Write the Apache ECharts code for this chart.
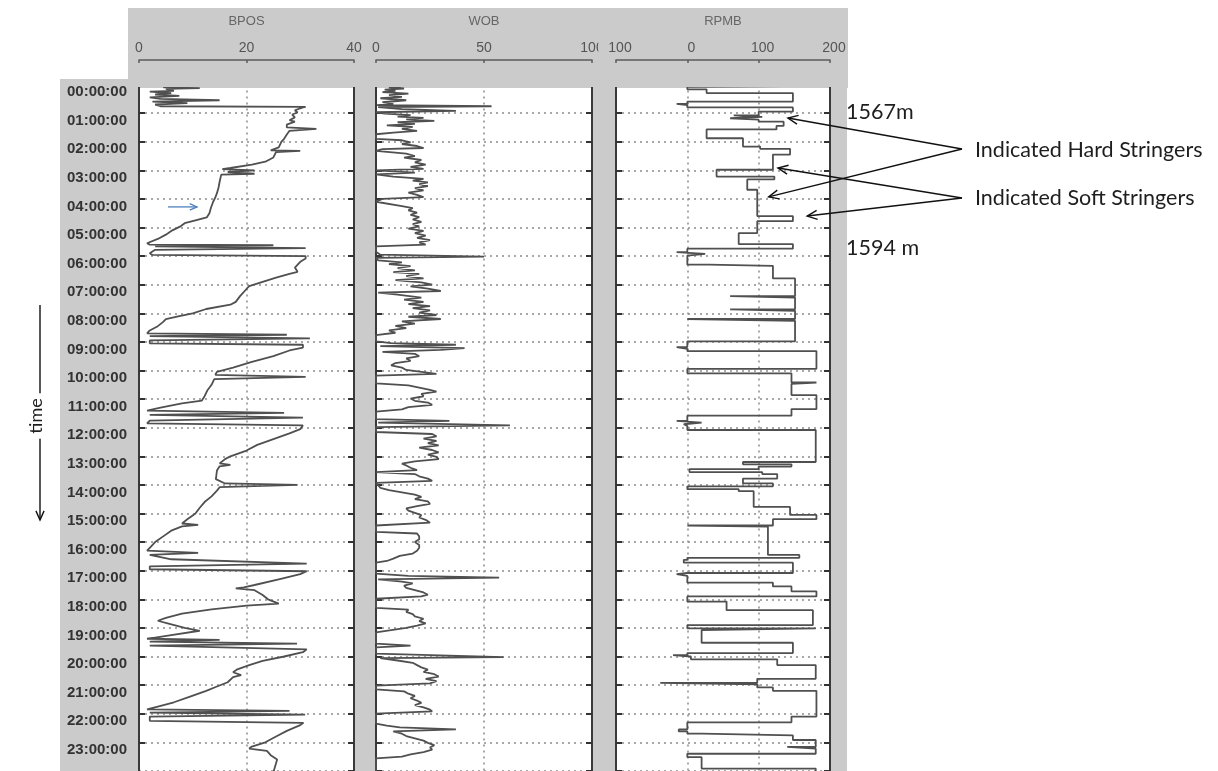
<!DOCTYPE html>
<html>
<head>
<meta charset="utf-8">
<script src="https://cdn.jsdelivr.net/npm/echarts@6/dist/echarts.min.js"></script>
<style>
html, body { margin: 0; padding: 0; background: #fff; }
#chart { width: 1218px; height: 771px; }
</style>
</head>
<body>
<div id="chart"></div>
<script>
// ---- Drilling log, one day (hours from 00:00) ----

// Hour tick labels on the shared time axis
const hourTicks = ['00:00:00','01:00:00','02:00:00','03:00:00','04:00:00','05:00:00',
  '06:00:00','07:00:00','08:00:00','09:00:00','10:00:00','11:00:00','12:00:00',
  '13:00:00','14:00:00','15:00:00','16:00:00','17:00:00','18:00:00','19:00:00',
  '20:00:00','21:00:00','22:00:00','23:00:00'];

// Track scale labels
const bposTicks = {0: '0', 20: '20', 40: '40'};
const wobTicks = {0: '0', 50: '50', 100: '100'};
const rpmbTicks = {'-100': '100', 0: '0', 100: '100', 200: '200'};

// BPOS – block position
const bposTime = [0.08,0.10,0.13,0.15,0.22,0.25,0.30,0.35,0.40,0.45,0.50,0.55,0.60,0.65,0.70,0.76,
  0.78,0.80,0.90,0.98,1.05,1.15,1.25,1.30,1.40,1.50,1.55,1.62,1.75,1.90,2.00,2.20,2.30,2.32,2.36,
  2.55,2.70,2.80,2.92,2.96,3.00,3.06,3.12,3.15,3.40,3.60,3.80,3.95,4.10,4.30,4.50,4.65,4.75,4.85,
  4.95,5.10,5.25,5.40,5.55,5.60,5.62,5.66,5.72,5.78,5.90,5.96,6.00,6.08,6.20,6.40,6.55,6.62,6.75,
  6.90,7.05,7.15,7.40,7.60,7.70,7.85,8.00,8.10,8.20,8.30,8.45,8.60,8.70,8.75,8.80,8.88,8.95,9.05,
  9.10,9.20,9.30,9.50,9.70,9.90,10.05,10.15,10.22,10.30,10.50,10.70,10.90,11.05,11.15,11.30,11.40,
  11.48,11.55,11.65,11.75,11.85,11.92,12.05,12.20,12.40,12.60,12.80,13.00,13.10,13.25,13.30,13.35,
  13.50,13.80,13.95,14.00,14.08,14.20,14.40,14.60,14.80,15.00,15.20,15.35,15.40,15.45,15.60,15.80,
  16.00,16.20,16.30,16.38,16.45,16.60,16.75,16.85,16.95,17.02,17.12,17.30,17.50,17.58,17.62,17.68,
  17.85,18.00,18.15,18.22,18.35,18.50,18.65,18.75,18.85,19.00,19.10,19.25,19.38,19.42,19.48,19.55,
  19.62,19.68,19.75,19.85,20.00,20.15,20.30,20.45,20.55,20.65,20.72,20.90,21.05,21.20,21.40,21.60,
  21.75,21.85,21.90,21.96,22.03,22.10,22.25,22.32,22.40,22.60,22.80,23.00,23.15,23.22,23.30,23.45,
  23.60,24.05];
const bposValue = [6.5,4.5,11.3,5,6.5,2,6,3,7.5,2,4,15,2.5,9,3,4,
  31,30.5,29,29.5,28.5,29,28,29,27.5,27.5,33,28,27.5,27,26.5,26,24.5,30,25.5,
  25,23.5,21,17,15.5,21.5,16.5,21.5,15.3,15,14.8,14.5,14.2,13.8,13.4,13.1,12.6,10.5,8.5,
  7.8,6.2,5,3.5,1.5,2,25,3,31,3,2,2.5,31,31,30,29,29.5,28,25.5,
  23,20.5,20,18.8,18,17,12.5,10,7.5,5,4.5,3.5,2,1.5,27.5,2,31.8,2,2,
  30.5,30.5,28,25,21,17.5,14.5,14.2,31,14,13.5,12.7,12.2,11.7,8,4,1.5,
  27,2,30.5,2,1.5,30.5,30,28,25,22,20,17,16,15,17,15,
  14.5,14.3,16,29.5,15,14.5,13.5,12.2,11.3,10.5,9,8,11,8,6,4.5,
  3,2,1.5,11,2,6,31.2,2,2,31.2,30,26,21.5,19.5,18,21.5,
  23,24,26,20,13.5,8,5,3.5,5.5,8.5,11.3,6,1.5,15,2,29.4,
  2,1.8,31.2,30.5,27,23,20.5,18.3,17.5,19,17.5,16.5,14.5,12.5,9.5,6.5,
  3.5,1.5,28,2,30.9,2,2,30.6,30,27.5,25.5,23.5,21,20.5,23.8,24.5,
  25.7,25];

// WOB – weight on bit
const wobTime = [0.06,0.10,0.14,0.18,0.22,0.27,0.32,0.37,0.43,0.48,0.55,0.62,0.68,0.72,0.76,0.79,
  0.86,0.92,0.97,1.02,1.07,1.12,1.17,1.22,1.27,1.32,1.38,1.43,1.48,1.55,1.62,1.68,1.74,1.90,1.95,
  2.02,2.08,2.15,2.22,2.26,2.32,2.42,2.50,2.56,2.64,2.72,2.80,2.88,2.95,3.00,3.08,3.14,3.22,3.30,
  3.36,3.42,3.48,3.55,3.62,3.70,3.78,3.86,3.94,4.00,4.10,4.25,4.32,4.40,4.48,4.56,4.64,4.72,4.80,
  4.88,4.96,5.04,5.12,5.20,5.28,5.36,5.44,5.52,5.60,5.66,5.85,5.95,6.02,6.06,6.15,6.22,6.28,6.35,
  6.42,6.50,6.56,6.62,6.70,6.78,6.84,6.92,7.00,7.06,7.14,7.22,7.28,7.35,7.45,7.52,7.60,7.68,7.75,
  7.82,7.90,7.98,8.06,8.12,8.20,8.28,8.36,8.44,8.52,8.60,8.68,8.76,8.98,9.04,9.10,9.15,9.22,9.28,
  9.35,9.42,9.50,9.58,9.66,9.74,9.82,9.90,9.98,10.06,10.12,10.18,10.45,10.52,10.60,10.68,10.74,
  10.82,10.90,10.98,11.06,11.12,11.20,11.28,11.36,11.44,11.70,11.76,11.82,11.92,11.98,12.15,12.22,
  12.30,12.38,12.46,12.54,12.62,12.70,12.78,12.86,12.94,13.02,13.10,13.18,13.26,13.32,13.40,13.48,
  13.55,13.62,13.70,13.78,13.86,13.93,14.10,14.18,14.26,14.34,14.42,14.50,14.58,14.66,14.74,14.82,
  14.90,14.98,15.06,15.14,15.22,15.32,15.42,15.64,15.70,15.80,15.90,16.00,16.10,16.20,16.30,16.40,
  16.48,16.58,16.66,16.72,17.10,17.18,17.24,17.30,17.38,17.44,17.52,17.60,17.68,17.76,17.84,17.90,
  17.98,18.30,18.36,18.44,18.52,18.60,18.68,18.76,18.84,18.92,19.00,19.08,19.16,19.55,19.62,19.68,
  19.90,19.98,20.02,20.06,20.14,20.22,20.30,20.38,20.46,20.54,20.62,20.70,20.78,20.86,20.94,21.02,
  21.15,21.22,21.30,21.38,21.46,21.54,21.62,21.70,21.78,21.86,21.92,22.00,22.35,22.42,22.48,22.55,
  22.62,22.70,22.78,22.86,22.94,23.02,23.10,23.18,23.26,23.34,23.42,23.50,23.56,24.05];
const wobValue = [12,6,13,4,9,3,15,6,12,2,14,3,8,0.5,53.5,1,
  12,37,0,4,16,10,22,14,27,10,18,5,17,12,19,8,0,0,12,
  16,12,19,22,3,0,14,18,13,21,18,23,16,22,0,18,0,8,22,
  17,24,20,24,18,22,15,19,22,3,0,12,17,15,19,16,20,17,21,
  17,20,15,22,18,23,19,25,20,23,0,0,2,50,0,1,12,6,16,
  10,18,8,20,14,22,9,21,26,16,24,30,1,10,21,13,22,15,25,
  17,25,20,28,15,30,12,18,9,14,6,9,0,0,7,37,2,41,30,
  3,18,20,14,16,9,7,12,14,22,28,0,0,15,20,25,28,
  21,22,16,18,24,26,15,12,0,0,34,1,62,0,0,26,
  28,22,28,24,29,20,26,29,24,28,29,18,12,14,16,19,
  0,18,20,24,26,0,2,6,12,18,21,18,24,25,19,14,
  15,18,21,20,23,25,0,0,19,20,20,18,20,20,19,17,
  11,8,5,0,0,15,57,1,12,17,13,14,18,22,24,21,
  0,0,15,14,17,18,22,20,23,19,14,7,0,0,16,0,
  0,38,59,2,10,17,19,21,24,22,27,29,23,28,25,0,
  0,13,15,18,16,19,21,18,22,25,26,0,0,5,11,37,
  8,12,14,18,22,24,27,25,26,22,16,12,0,0];

// RPMB – bit rotary speed, held constant from each time until the next
const rpmbTime = [0.00,0.05,0.08,0.17,0.30,0.60,0.68,0.72,0.80,0.95,1.08,1.13,1.18,1.23,1.30,1.45,
  1.57,1.88,2.17,2.25,2.45,2.98,3.22,3.32,3.68,4.60,4.78,5.20,5.58,5.74,5.86,5.92,5.98,6.30,6.34,
  6.78,7.40,7.45,7.86,7.91,8.20,8.26,8.98,9.18,9.24,9.32,9.94,10.10,10.42,10.47,10.86,11.35,11.58,
  11.76,11.82,11.88,11.94,12.08,13.20,13.28,13.36,13.45,13.55,13.62,13.78,13.95,14.05,14.15,14.22,
  14.77,15.05,15.20,15.42,15.46,16.45,16.55,16.62,16.72,17.08,17.12,17.18,17.42,17.55,17.72,17.90,
  18.08,18.38,18.90,19.02,19.08,19.52,19.88,19.95,20.00,20.10,20.30,20.78,20.92,20.97,21.08,21.20,
  22.10,22.30,22.55,22.62,22.70,22.76,22.92,23.16,23.22,23.40,23.52,23.92];
const rpmbValue = [0,180,0,27,148,0,-15,0,148,100,65,105,60,100,135,125,
  27,78,102,144,120,41,122,84,98,148,98,72,148,0,-15,25,0,30,120,
  151,60,151,60,151,0,151,0,-15,0,181,0,146,181,146,181,146,0,
  -15,20,-5,0,180,78,146,100,3,105,126,78,120,0,72,93,
  144,181,120,0,113,157,0,-5,148,0,-15,0,120,146,181,0,
  55,176,0,180,20,148,0,-20,5,126,180,98,-38,98,120,181,
  146,0,-12,0,20,148,180,140,180,0,20,180];
const rpmbEnd = 24.05;

function pairs(times, values) {
  return times.map((t, i) => [values[i], t]);
}
function stepPoints(times, values, end) {
  const pts = [];
  for (let i = 0; i < times.length; i++) {
    const next = i + 1 < times.length ? times[i + 1] : end;
    pts.push([values[i], times[i]], [values[i], next]);
  }
  return pts;
}

const GRAY = '#cbcbcb';
const TRACE = '#505050';
const FONT = 'Liberation Sans, Arial, sans-serif';
const plotTop = 84.5;
const plotHeight = 686.4;

const panels = [
  { left: 139, width: 215, name: 'BPOS', min: 0, max: 40, interval: 20, ticks: bposTicks },
  { left: 376, width: 216, name: 'WOB', min: 0, max: 100, interval: 50, ticks: wobTicks },
  { left: 616, width: 214, name: 'RPMB', min: -100, max: 200, interval: 100, ticks: rpmbTicks }
];

const grid = panels.map(p => ({ left: p.left, width: p.width, top: plotTop, height: plotHeight, containLabel: false }));

const xAxis = panels.map((p, i) => ({
  type: 'value', gridIndex: i, position: 'top', offset: 24.5,
  min: p.min, max: p.max, interval: p.interval,
  name: p.name, nameLocation: 'middle', nameGap: 32,
  nameTextStyle: { color: '#666', fontSize: 13, fontFamily: FONT },
  axisLine: { show: true, onZero: false, lineStyle: { color: '#5c5c5c', width: 1.5 } },
  axisTick: { show: true, length: 3, inside: true, lineStyle: { color: '#5c5c5c', width: 1.5 } },
  axisLabel: {
    show: true, color: '#555', fontSize: 14, fontFamily: FONT, margin: 5,
    showMinLabel: true, showMaxLabel: true,
    formatter: v => p.ticks[v],
    backgroundColor: i === 2 ? GRAY : 'transparent',
    padding: i === 2 ? [0, 2, 0, 10] : 0
  },
  splitLine: { show: true, lineStyle: { color: '#8c8c8c', width: 1.5, type: [2, 4] } }
}));

const yAxis = [];
panels.forEach((p, i) => {
  yAxis.push({
    type: 'value', gridIndex: i, position: 'left', inverse: true,
    min: 0, max: 24, interval: 1,
    axisLine: { show: true, onZero: false, lineStyle: { color: '#3a3a3a', width: 2 } },
    axisTick: { show: true, inside: true, length: 6, lineStyle: { color: '#333', width: 2 } },
    axisLabel: {
      show: i === 0, color: '#333', fontSize: 15, fontWeight: 'bold', fontFamily: FONT,
      margin: 12, verticalAlign: 'top', showMaxLabel: false,
      formatter: v => hourTicks[v] || ''
    },
    splitLine: { show: true, lineStyle: { color: '#8c8c8c', width: 1.5, type: [2, 4] } }
  });
  yAxis.push({
    type: 'value', gridIndex: i, position: 'right', inverse: true,
    min: 0, max: 24, interval: 1,
    axisLine: { show: true, onZero: false, lineStyle: { color: '#3a3a3a', width: 2 } },
    axisTick: { show: true, inside: true, length: 6, lineStyle: { color: '#333', width: 2 } },
    axisLabel: { show: false },
    splitLine: { show: false }
  });
});

const lineStyle = { color: TRACE, width: 1.8 };
const series = [
  { type: 'line', xAxisIndex: 0, yAxisIndex: 0, data: pairs(bposTime, bposValue) },
  { type: 'line', xAxisIndex: 1, yAxisIndex: 2, data: pairs(wobTime, wobValue) },
  { type: 'line', xAxisIndex: 2, yAxisIndex: 4, data: stepPoints(rpmbTime, rpmbValue, rpmbEnd) }
].map(s => Object.assign(s, { showSymbol: false, symbol: 'none', lineStyle, clip: true, z: 3, silent: true }));

const chart = echarts.init(document.getElementById('chart'), null, { renderer: 'canvas' });
chart.setOption({ animation: false, backgroundColor: '#fff', grid, xAxis, yAxis, series });

// Panel frame shading and annotations
function arrow(x1, y1, x2, y2, color, width, head) {
  const a = Math.atan2(y2 - y1, x2 - x1);
  const spread = 0.42;
  return [
    { type: 'line', z: 60, shape: { x1, y1, x2, y2 }, style: { stroke: color, lineWidth: width } },
    { type: 'polyline', z: 60, shape: { points: [
        [x2 - head * Math.cos(a - spread), y2 - head * Math.sin(a - spread)],
        [x2, y2],
        [x2 - head * Math.cos(a + spread), y2 - head * Math.sin(a + spread)]
      ] }, style: { stroke: color, lineWidth: width, fill: null } }
  ];
}
const px = (gridIndex, v, t) => chart.convertToPixel({ gridIndex }, [v, t]);

const rects = [
  [128, 8, 720, 80], [60, 79, 79, 692], [354, 80, 22, 691], [592, 80, 24, 691], [830, 80, 17, 691]
].map(r => ({ type: 'rect', z: -10, shape: { x: r[0], y: r[1], width: r[2], height: r[3] }, style: { fill: GRAY } }));
rects.push({ type: 'rect', z: 100, shape: { x: 128, y: 81, width: 720, height: 6 }, style: { fill: GRAY } });

const annoFont = '21.5px Lato, "Open Sans", sans-serif';
const texts = [
  ['1567m', 846, 112], ['Indicated Hard Stringers', 975, 150],
  ['Indicated Soft Stringers', 975, 198], ['1594 m', 846, 248]
].map(t => ({ type: 'text', z: 60, x: t[1], y: t[2], style: { text: t[0], font: annoFont, fill: '#1e1e1e', align: 'left', verticalAlign: 'middle' } }));

const hardFrom = [962, 149], softFrom = [962, 198];
const hardTargets = [[141, 1.17], [114, 3.93]];
const softTargets = [[127, 2.92], [168, 4.6]];
let arrows = [];
hardTargets.forEach(p => { const q = px(2, p[0], p[1]); arrows = arrows.concat(arrow(hardFrom[0], hardFrom[1], q[0], q[1], '#111', 1.4, 11)); });
softTargets.forEach(p => { const q = px(2, p[0], p[1]); arrows = arrows.concat(arrow(softFrom[0], softFrom[1], q[0], q[1], '#111', 1.4, 11)); });

const b1 = px(0, 5.4, 4.28), b2 = px(0, 10.8, 4.28);
arrows = arrows.concat(arrow(b1[0], b1[1], b2[0], b2[1], '#4f81bd', 1.3, 8));

// time direction marker
arrows = arrows.concat(arrow(40, 305, 40, 520, '#111', 1.4, 10));
texts.push({ type: 'text', z: 61, x: 36, y: 416, rotation: Math.PI / 2,
  style: { text: 'time', font: '18px Lato, "Open Sans", sans-serif', fill: '#1e1e1e', align: 'center', verticalAlign: 'middle',
    backgroundColor: '#fff', padding: [0, 5] } });

chart.setOption({ graphic: { elements: rects.concat(texts, arrows) } });
</script>
</body>
</html>
